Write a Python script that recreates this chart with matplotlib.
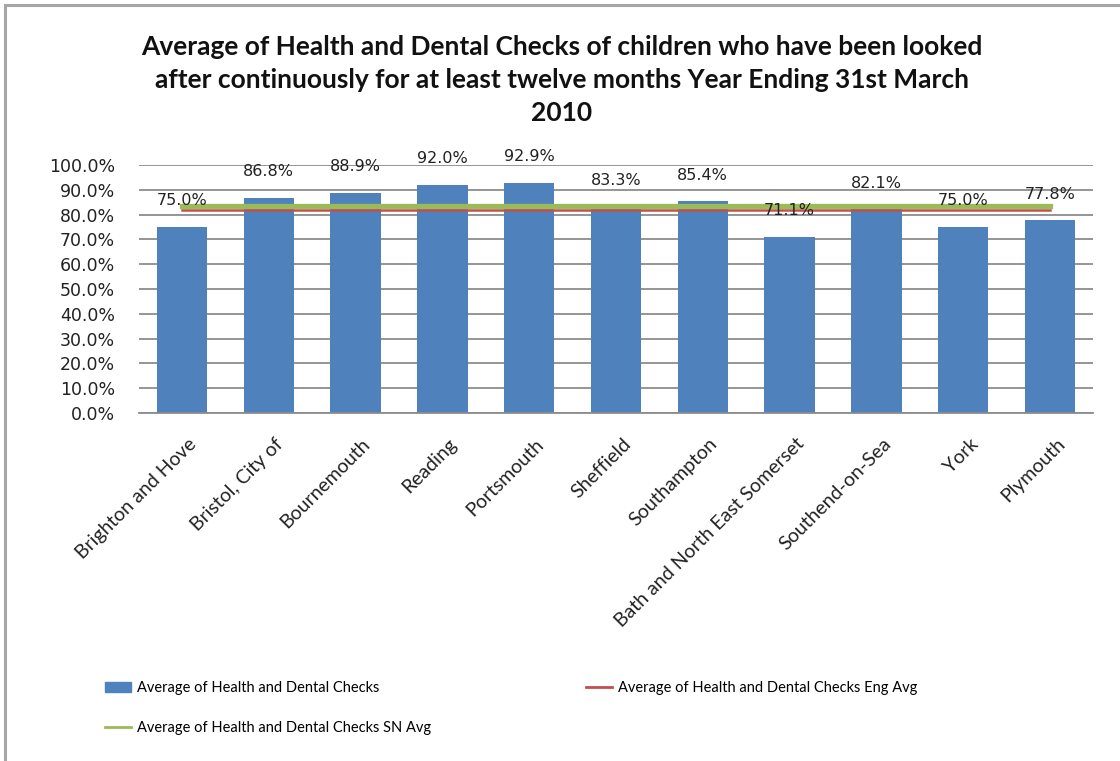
import numpy as np
import matplotlib.pyplot as plt
import matplotlib.patches as mpatches
from matplotlib.lines import Line2D
import matplotlib.transforms as mtrans

# Daten
orte = ["Brighton and Hove", "Bristol, City of", "Bournemouth", "Reading", "Portsmouth",
        "Sheffield", "Southampton", "Bath and North East Somerset", "Southend-on-Sea",
        "York", "Plymouth"]
werte = [75.0, 86.8, 88.9, 92.0, 92.9, 83.3, 85.4, 71.1, 82.1, 75.0, 77.8]
eng_avg = [82.0] * 11
sn_avg = [83.5] * 11

TITEL = ("Average of Health and Dental Checks of children who have been looked\n"
         "after continuously for at least twelve months Year Ending 31st March\n"
         "2010")

SCHRIFT_SCHMAL = ["Lato", "DejaVu Sans"]
SCHRIFT_ZAHL = ["DejaVu Sans"]

BLAU = "#4F81BD"
ROT = "#C0504D"
GRUEN = "#9BBB59"
GRAU = "#8C8C8C"

fig = plt.figure(figsize=(11.2, 7.61), dpi=100)
ax = fig.add_axes([138.6 / 1120, 1 - 413 / 761, 954.8 / 1120, 248 / 761])

x = np.arange(len(orte))
ax.bar(x, werte, width=0.58, color=BLAU, zorder=2)
ax.plot(x, eng_avg, color=ROT, lw=1.8, zorder=3)
ax.plot(x, sn_avg, color=GRUEN, lw=3.8, zorder=4)

for xi, w in zip(x, werte):
    ax.text(xi, w + 10.5, f"{w:.1f}%", ha="center", va="center", fontsize=11.5,
            family=SCHRIFT_ZAHL, color="#222222", zorder=5, clip_on=False)

ax.set_xlim(-0.5, len(orte) - 0.5)
ax.set_ylim(0, 100)
ax.set_yticks(np.arange(0, 101, 10))
ax.set_yticklabels([f"{v:.1f}%" for v in np.arange(0, 101, 10)], family=SCHRIFT_ZAHL,
                   fontsize=12.5, color="#222222")
ax.yaxis.grid(True, color=GRAU, lw=1.3, zorder=1)
ax.set_axisbelow(True)
ax.tick_params(axis="y", length=0, pad=17)
ax.tick_params(axis="x", length=0, pad=16)

ax.set_xticks(x)
ax.set_xticklabels(orte, rotation=45, ha="right", rotation_mode="anchor",
                   family=SCHRIFT_SCHMAL, fontsize=14, color="#222222")
versatz = mtrans.ScaledTranslation(6 / 100, 0, fig.dpi_scale_trans)
for lab in ax.get_xticklabels():
    lab.set_transform(lab.get_transform() + versatz)

for s in ["left", "right", "top"]:
    ax.spines[s].set_visible(False)
ax.spines["bottom"].set_color(GRAU)
ax.spines["bottom"].set_linewidth(1.3)

fig.text(562 / 1120, 1 - 80 / 761, TITEL, ha="center", va="center", fontsize=19,
         fontweight="bold", family=SCHRIFT_SCHMAL, linespacing=1.45, color="#111111")

griffe = [mpatches.Patch(color=BLAU),
          Line2D([], [], color=GRUEN, lw=2),
          Line2D([], [], color=ROT, lw=2)]
namen = ["Average of Health and Dental Checks",
         "Average of Health and Dental Checks SN Avg",
         "Average of Health and Dental Checks Eng Avg"]
fig.legend(griffe, namen, ncol=2, loc="upper left",
           bbox_to_anchor=(92 / 1120, 1 - 668 / 761), frameon=False,
           prop={"family": SCHRIFT_SCHMAL, "size": 10.5}, handlelength=1.8,
           handletextpad=0.4, labelspacing=1.75, columnspacing=10.6)

fig.patches.append(mpatches.Rectangle((5 / 1120, -0.1), 2, 1.1 - 5 / 761,
                                      transform=fig.transFigure, fill=False,
                                      edgecolor="#A6A6A6", lw=2.2))

fig.savefig("out.png", dpi=100)
